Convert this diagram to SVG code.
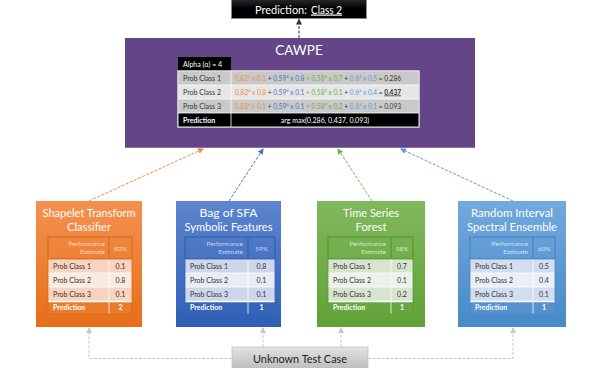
<svg xmlns="http://www.w3.org/2000/svg" width="598" height="368" viewBox="0 0 598 368">
<defs>
<style>
text{font-family:Lato,"Liberation Sans",sans-serif}
.t{font-size:7px;fill:#333}
.w{fill:#fff}
.b{font-weight:bold}
.ttl{font-size:11.5px;fill:#fff;text-anchor:middle}
.hd{font-size:6.5px;text-anchor:end}
.c{text-anchor:middle}
.o{fill:#F08A3E}.bl{fill:#4472C4}.g{fill:#70AD47}.lb{fill:#5B9BD5}
.dash{fill:none;stroke-width:1;stroke-dasharray:3 1.5}
</style>
<linearGradient id="gO" x1="0" y1="0" x2="0" y2="1"><stop offset="0" stop-color="#F4914F"/><stop offset="1" stop-color="#E66E19"/></linearGradient>
<linearGradient id="gB" x1="0" y1="0" x2="0" y2="1"><stop offset="0" stop-color="#5D85CF"/><stop offset="1" stop-color="#2E5FB6"/></linearGradient>
<linearGradient id="gG" x1="0" y1="0" x2="0" y2="1"><stop offset="0" stop-color="#80B85C"/><stop offset="1" stop-color="#60A236"/></linearGradient>
<linearGradient id="gL" x1="0" y1="0" x2="0" y2="1"><stop offset="0" stop-color="#72A9DD"/><stop offset="1" stop-color="#478AC9"/></linearGradient>
<linearGradient id="gK" x1="0" y1="0" x2="0" y2="1"><stop offset="0" stop-color="#2a2a2a"/><stop offset="0.5" stop-color="#000"/><stop offset="1" stop-color="#000"/></linearGradient>
<linearGradient id="gU" x1="0" y1="0" x2="0" y2="1"><stop offset="0" stop-color="#E2E2E2"/><stop offset="1" stop-color="#BDBDBD"/></linearGradient>
<marker id="aK" markerWidth="6" markerHeight="6" refX="5" refY="3" orient="auto" markerUnits="userSpaceOnUse"><path d="M0,0 L6,3 L0,6z" fill="#333"/></marker>
<marker id="aO" markerWidth="6" markerHeight="6" refX="5" refY="3" orient="auto" markerUnits="userSpaceOnUse"><path d="M0,0 L6,3 L0,6z" fill="#F08A3E"/></marker>
<marker id="aB" markerWidth="6" markerHeight="6" refX="5" refY="3" orient="auto" markerUnits="userSpaceOnUse"><path d="M0,0 L6,3 L0,6z" fill="#4472C4"/></marker>
<marker id="aG" markerWidth="6" markerHeight="6" refX="5" refY="3" orient="auto" markerUnits="userSpaceOnUse"><path d="M0,0 L6,3 L0,6z" fill="#70AD47"/></marker>
<marker id="aL" markerWidth="6" markerHeight="6" refX="5" refY="3" orient="auto" markerUnits="userSpaceOnUse"><path d="M0,0 L6,3 L0,6z" fill="#5B9BD5"/></marker>
<marker id="aY" markerWidth="6" markerHeight="6" refX="5" refY="3" orient="auto" markerUnits="userSpaceOnUse"><path d="M0,0 L6,3 L0,6z" fill="#C8C8C8"/></marker>
</defs>
<rect width="598" height="368" fill="#fff"/>

<g id="prediction">
<rect x="231.5" y="-1" width="135" height="19.5" fill="url(#gK)" stroke="#8a8a8a" stroke-width="1"/>
<text x="255" y="13.5" font-size="12" class="w" textLength="52" lengthAdjust="spacingAndGlyphs">Prediction:</text>
<text x="311" y="13.5" font-size="12" class="w" text-decoration="underline" textLength="31" lengthAdjust="spacingAndGlyphs">Class 2</text>
</g>

<g id="cawpe">
<rect x="125" y="38" width="350" height="110" fill="#644587"/>
<line x1="125" y1="147.5" x2="475" y2="147.5" stroke="#8a70a8" stroke-width="1"/>
<text x="299" y="55" font-size="13.5" class="w c">CAWPE</text>
<rect x="178" y="57" width="53" height="14" fill="#000"/>
<text x="183" y="66.5" class="t w" font-size="6.5">Alpha (α) = 4</text>
<rect x="178" y="71" width="241" height="56" fill="#fff" stroke="#ddd" stroke-width="1"/>
<rect x="178" y="71" width="241" height="14" fill="#C9C9C9"/>
<rect x="178" y="85" width="241" height="14" fill="#E6E6E6"/>
<rect x="178" y="99" width="241" height="14" fill="#C9C9C9"/>
<rect x="178" y="113" width="241" height="14" fill="#000"/>
<g stroke="#fff" stroke-width="0.8">
<line x1="231" y1="71" x2="231" y2="127"/>
<line x1="178" y1="85" x2="419" y2="85"/>
<line x1="178" y1="99" x2="419" y2="99"/>
<line x1="178" y1="113" x2="419" y2="113"/>
</g>
<rect x="178" y="71" width="241" height="56" fill="none" stroke="#e8e8e8" stroke-width="1"/>
<text x="183" y="80.5" class="t">Prob Class 1</text>
<text x="183" y="94.5" class="t">Prob Class 2</text>
<text x="183" y="108.5" class="t">Prob Class 3</text>
<text x="183" y="122.5" class="t w b">Prediction</text>
<text x="235" y="80.5" class="t" textLength="166" lengthAdjust="spacingAndGlyphs"><tspan class="o">0.82<tspan font-size="4.5" dy="-2.5">4</tspan><tspan dy="2.5"> x 0.1</tspan></tspan> + <tspan class="bl">0.59<tspan font-size="4.5" dy="-2.5">4</tspan><tspan dy="2.5"> x 0.8</tspan></tspan><tspan class="g"> + 0.58<tspan font-size="4.5" dy="-2.5">4</tspan><tspan dy="2.5"> x 0.7</tspan></tspan> + <tspan class="lb">0.6<tspan font-size="4.5" dy="-2.5">4</tspan><tspan dy="2.5"> x 0.5</tspan></tspan> = 0.286</text>
<text x="235" y="94.5" class="t" textLength="166" lengthAdjust="spacingAndGlyphs"><tspan class="o">0.82<tspan font-size="4.5" dy="-2.5">4</tspan><tspan dy="2.5"> x 0.8</tspan></tspan> + <tspan class="bl">0.59<tspan font-size="4.5" dy="-2.5">4</tspan><tspan dy="2.5"> x 0.1</tspan></tspan><tspan class="g"> + 0.58<tspan font-size="4.5" dy="-2.5">4</tspan><tspan dy="2.5"> x 0.1</tspan></tspan> + <tspan class="lb">0.6<tspan font-size="4.5" dy="-2.5">4</tspan><tspan dy="2.5"> x 0.4</tspan></tspan> = <tspan class="b" text-decoration="underline">0.437</tspan></text>
<text x="235" y="108.5" class="t" textLength="166" lengthAdjust="spacingAndGlyphs"><tspan class="o">0.82<tspan font-size="4.5" dy="-2.5">4</tspan><tspan dy="2.5"> x 0.1</tspan></tspan> + <tspan class="bl">0.59<tspan font-size="4.5" dy="-2.5">4</tspan><tspan dy="2.5"> x 0.1</tspan></tspan><tspan class="g"> + 0.58<tspan font-size="4.5" dy="-2.5">4</tspan><tspan dy="2.5"> x 0.2</tspan></tspan> + <tspan class="lb">0.6<tspan font-size="4.5" dy="-2.5">4</tspan><tspan dy="2.5"> x 0.1</tspan></tspan> = 0.093</text>
<text x="325" y="122.5" class="t w c">arg max(0.286, 0.437, 0.093)</text>
</g>

<g id="stc">
<rect x="36" y="201" width="106" height="126" fill="url(#gO)"/>
<text x="89" y="216.5" class="ttl" textLength="93" lengthAdjust="spacingAndGlyphs">Shapelet Transform</text>
<text x="89" y="231" class="ttl" textLength="44" lengthAdjust="spacingAndGlyphs">Classifier</text>
<rect x="48" y="237" width="84" height="22" fill="none" stroke="#C9600F" stroke-width="0.8"/>
<line x1="109" y1="237" x2="109" y2="259" stroke="#C9600F" stroke-width="0.8"/>
<text x="105" y="246" class="hd" fill="#FBD9C4">Performance</text>
<text x="105" y="254" class="hd" fill="#FBD9C4">Estimate</text>
<text x="120.5" y="251" class="hd c" fill="#FBD9C4">82%</text>
<rect x="48" y="259" width="84" height="14" fill="#F8D4C0"/>
<rect x="48" y="273" width="84" height="14" fill="#FBEAE0"/>
<rect x="48" y="287" width="84" height="14" fill="#F8D4C0"/>
<rect x="48" y="301" width="84" height="13" fill="#EA7A2C"/>
<g stroke="#fff" stroke-width="0.8"><line x1="109" y1="259" x2="109" y2="314"/><line x1="48" y1="273" x2="132" y2="273"/><line x1="48" y1="287" x2="132" y2="287"/><line x1="48" y1="301.5" x2="132" y2="301.5" stroke-width="1.5"/></g>
<rect x="48" y="259" width="84" height="55" fill="none" stroke="#D9691B" stroke-width="0.8"/>
<text x="53" y="268.5" class="t">Prob Class 1</text><text x="120.5" y="268.5" class="t c">0.1</text>
<text x="53" y="282.5" class="t">Prob Class 2</text><text x="120.5" y="282.5" class="t c">0.8</text>
<text x="53" y="296.5" class="t">Prob Class 3</text><text x="120.5" y="296.5" class="t c">0.1</text>
<text x="53" y="310" class="t w b">Prediction</text><text x="120.5" y="310" class="t w b c">2</text>
</g>

<g id="boss">
<rect x="176" y="201" width="105" height="126" fill="url(#gB)"/>
<text x="228.5" y="216.5" class="ttl" textLength="58" lengthAdjust="spacingAndGlyphs">Bag of SFA</text>
<text x="228.5" y="231" class="ttl" textLength="88" lengthAdjust="spacingAndGlyphs">Symbolic Features</text>
<rect x="185" y="237" width="90" height="22" fill="none" stroke="#2A559F" stroke-width="0.8"/>
<line x1="248" y1="237" x2="248" y2="259" stroke="#2A559F" stroke-width="0.8"/>
<text x="243" y="246" class="hd" fill="#C9D5EE">Performance</text>
<text x="243" y="254" class="hd" fill="#C9D5EE">Estimate</text>
<text x="261.5" y="251" class="hd c" fill="#C9D5EE">59%</text>
<rect x="185" y="259" width="90" height="14" fill="#CFD5EA"/>
<rect x="185" y="273" width="90" height="14" fill="#E9EBF5"/>
<rect x="185" y="287" width="90" height="14" fill="#CFD5EA"/>
<rect x="185" y="301" width="90" height="13" fill="#3765BA"/>
<g stroke="#fff" stroke-width="0.8"><line x1="248" y1="259" x2="248" y2="314"/><line x1="185" y1="273" x2="275" y2="273"/><line x1="185" y1="287" x2="275" y2="287"/><line x1="185" y1="301.5" x2="275" y2="301.5" stroke-width="1.5"/></g>
<rect x="185" y="259" width="90" height="55" fill="none" stroke="#3562B4" stroke-width="0.8"/>
<text x="190" y="268.5" class="t">Prob Class 1</text><text x="261.5" y="268.5" class="t c">0.8</text>
<text x="190" y="282.5" class="t">Prob Class 2</text><text x="261.5" y="282.5" class="t c">0.1</text>
<text x="190" y="296.5" class="t">Prob Class 3</text><text x="261.5" y="296.5" class="t c">0.1</text>
<text x="190" y="310" class="t w b">Prediction</text><text x="261.5" y="310" class="t w b c">1</text>
</g>

<g id="tsf">
<rect x="317" y="201" width="108" height="126" fill="url(#gG)"/>
<text x="371" y="216.5" class="ttl" textLength="56" lengthAdjust="spacingAndGlyphs">Time Series</text>
<text x="371" y="231" class="ttl" textLength="31" lengthAdjust="spacingAndGlyphs">Forest</text>
<rect x="328" y="237" width="85" height="22" fill="none" stroke="#4E8A28" stroke-width="0.8"/>
<line x1="391" y1="237" x2="391" y2="259" stroke="#4E8A28" stroke-width="0.8"/>
<text x="386" y="246" class="hd" fill="#D8EACB">Performance</text>
<text x="386" y="254" class="hd" fill="#D8EACB">Estimate</text>
<text x="402" y="251" class="hd c" fill="#D8EACB">58%</text>
<rect x="328" y="259" width="85" height="14" fill="#D7E4D0"/>
<rect x="328" y="273" width="85" height="14" fill="#ECF2E9"/>
<rect x="328" y="287" width="85" height="14" fill="#D7E4D0"/>
<rect x="328" y="301" width="85" height="13" fill="#68A73F"/>
<g stroke="#fff" stroke-width="0.8"><line x1="391" y1="259" x2="391" y2="314"/><line x1="328" y1="273" x2="413" y2="273"/><line x1="328" y1="287" x2="413" y2="287"/><line x1="328" y1="301.5" x2="413" y2="301.5" stroke-width="1.5"/></g>
<rect x="328" y="259" width="85" height="55" fill="none" stroke="#5E9C37" stroke-width="0.8"/>
<text x="333" y="268.5" class="t">Prob Class 1</text><text x="402" y="268.5" class="t c">0.7</text>
<text x="333" y="282.5" class="t">Prob Class 2</text><text x="402" y="282.5" class="t c">0.1</text>
<text x="333" y="296.5" class="t">Prob Class 3</text><text x="402" y="296.5" class="t c">0.2</text>
<text x="333" y="310" class="t w b">Prediction</text><text x="402" y="310" class="t w b c">1</text>
</g>

<g id="rise">
<rect x="458" y="201" width="108" height="126" fill="url(#gL)"/>
<text x="512" y="216.5" class="ttl" textLength="82" lengthAdjust="spacingAndGlyphs">Random Interval</text>
<text x="512" y="231" class="ttl" textLength="90" lengthAdjust="spacingAndGlyphs">Spectral Ensemble</text>
<rect x="470" y="237" width="85" height="22" fill="none" stroke="#3A78B8" stroke-width="0.8"/>
<line x1="533" y1="237" x2="533" y2="259" stroke="#3A78B8" stroke-width="0.8"/>
<text x="528" y="246" class="hd" fill="#D0E2F4">Performance</text>
<text x="528" y="254" class="hd" fill="#D0E2F4">Estimate</text>
<text x="544" y="251" class="hd c" fill="#D0E2F4">60%</text>
<rect x="470" y="259" width="85" height="14" fill="#D2DEEF"/>
<rect x="470" y="273" width="85" height="14" fill="#EAEFF7"/>
<rect x="470" y="287" width="85" height="14" fill="#D2DEEF"/>
<rect x="470" y="301" width="85" height="13" fill="#5592CF"/>
<g stroke="#fff" stroke-width="0.8"><line x1="533" y1="259" x2="533" y2="314"/><line x1="470" y1="273" x2="555" y2="273"/><line x1="470" y1="287" x2="555" y2="287"/><line x1="470" y1="301.5" x2="555" y2="301.5" stroke-width="1.5"/></g>
<rect x="470" y="259" width="85" height="55" fill="none" stroke="#4A88C6" stroke-width="0.8"/>
<text x="475" y="268.5" class="t">Prob Class 1</text><text x="544" y="268.5" class="t c">0.5</text>
<text x="475" y="282.5" class="t">Prob Class 2</text><text x="544" y="282.5" class="t c">0.4</text>
<text x="475" y="296.5" class="t">Prob Class 3</text><text x="544" y="296.5" class="t c">0.1</text>
<text x="475" y="310" class="t w b">Prediction</text><text x="544" y="310" class="t w b c">1</text>
</g>

<g id="unknown">
<rect x="232" y="347" width="136" height="22" fill="url(#gU)" stroke="#c4c4c4" stroke-width="0.8"/>
<text x="300" y="362.5" font-size="11.5" fill="#222" class="c" textLength="94" lengthAdjust="spacingAndGlyphs">Unknown Test Case</text>
</g>

<g id="connectors">
<line x1="299" y1="38" x2="299" y2="19.5" class="dash" stroke="#333" marker-end="url(#aK)"/>
<line x1="89" y1="201" x2="203" y2="149" class="dash" stroke="#F08A3E" marker-end="url(#aO)"/>
<line x1="229" y1="201" x2="263" y2="149" class="dash" stroke="#4472C4" marker-end="url(#aB)"/>
<line x1="372" y1="201" x2="338" y2="149" class="dash" stroke="#70AD47" marker-end="url(#aG)"/>
<line x1="513" y1="201" x2="401" y2="149" class="dash" stroke="#5B9BD5" marker-end="url(#aL)"/>
<polyline points="232,358.5 89,358.5 89,328" class="dash" stroke="#C8C8C8" marker-end="url(#aY)"/>
<polyline points="368,358.5 513,358.5 513,328" class="dash" stroke="#C8C8C8" marker-end="url(#aY)"/>
<line x1="263" y1="347" x2="263" y2="328" class="dash" stroke="#C8C8C8" marker-end="url(#aY)"/>
<line x1="341" y1="347" x2="341" y2="328" class="dash" stroke="#C8C8C8" marker-end="url(#aY)"/>
</g>
</svg>
